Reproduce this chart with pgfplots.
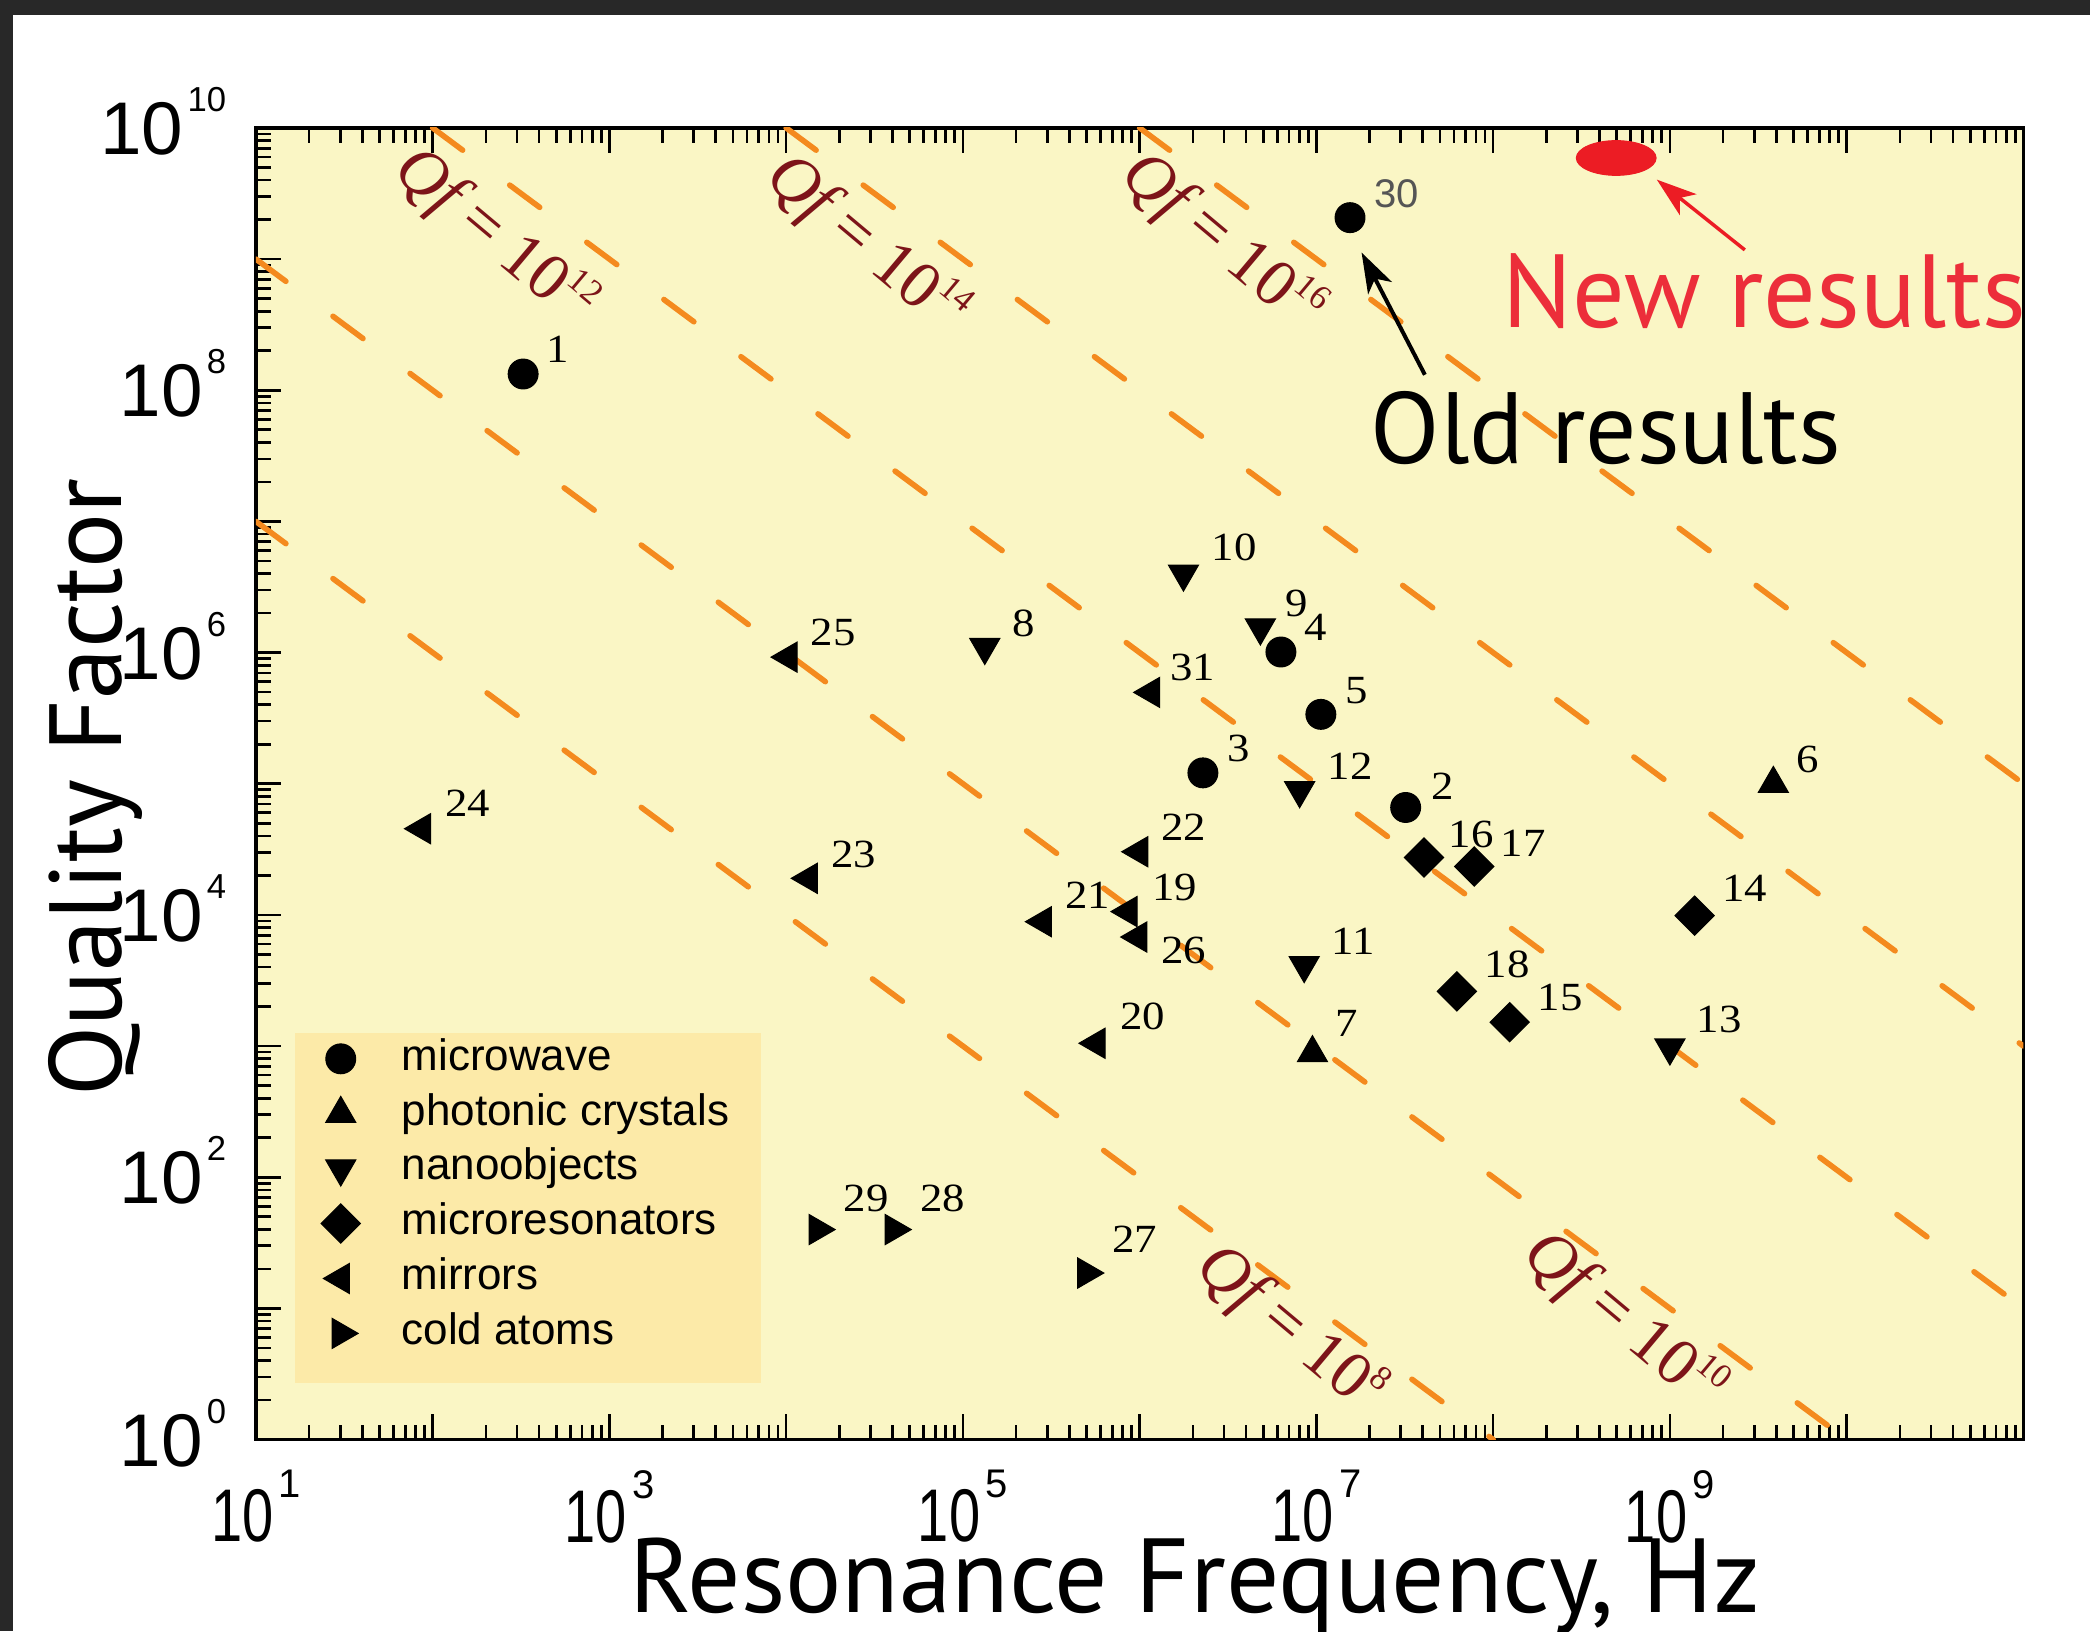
\documentclass[border=0pt]{standalone}
\usepackage{fontspec}
\setmainfont{Liberation Sans}
\newfontfamily\xfont[FakeStretch=0.75]{Liberation Sans}
\newfontfamily\labserif[FakeStretch=1.12]{Liberation Serif}
\newfontfamily\qfserif{Liberation Serif}
\newfontfamily\myriad{PT Sans}
\usepackage{pgfplots}
\pgfplotsset{compat=1.18}
\usetikzlibrary{arrows.meta}
\definecolor{bgyellow}{RGB}{250,246,197}
\definecolor{legendbg}{RGB}{252,234,168}
\definecolor{qforange}{RGB}{244,138,30}
\definecolor{qfred}{RGB}{125,20,25}
\definecolor{newred}{RGB}{236,46,58}
\definecolor{ellred}{RGB}{236,28,36}
\definecolor{framedark}{RGB}{40,40,40}
\definecolor{gray30}{RGB}{85,85,85}
\newcommand\xt[1]{{\fontsize{28}{28}\selectfont\xfont 10}\hspace{2pt}\raisebox{16.4pt}{\fontsize{15}{15}\selectfont #1}}
\newcommand\yt[1]{{\fontsize{28}{28}\selectfont 10}\hspace{1.5pt}\raisebox{16.2pt}{\fontsize{13}{13}\selectfont #1}}
\newcommand\qf[1]{{\qfserif\fontsize{25}{25}\selectfont{\itshape Qf} = 10\raisebox{10.5pt}{\fontsize{13}{13}\selectfont #1}}}
\pgfplotsset{
  lab/.style={nodes near coords, point meta=explicit symbolic,
    visualization depends on={value \thisrow{dx}\as\dx},
    visualization depends on={value \thisrow{dy}\as\dy},
    every node near coord/.append style={anchor=center, xshift=\dx pt, yshift=\dy pt,
      font=\labserif\fontsize{15}{15}\selectfont, text=black, inner sep=0pt}},
  qfline/.style={draw=qforange, line width=2.1pt, line cap=round, dash pattern=on 14pt off 22pt, forget plot},
}
\begin{document}
\begin{tikzpicture}
\fill[white] (0,0) rectangle (784pt,612pt);
\useasboundingbox (0,0) rectangle (784pt,612pt);
\fill[framedark] (0,606.5pt) rectangle (784pt,612pt);
\fill[framedark] (0,0) rectangle (5pt,612pt);
\begin{axis}[
  at={(96pt,72pt)}, anchor=south west,
  scale only axis, width=663pt, height=492pt,
  xmode=log, ymode=log,
  xmin=10, xmax=1e11, ymin=1, ymax=1e10,
  axis background/.style={fill=bgyellow},
  axis line style={line width=1.2pt},
  every tick/.style={black, line width=1pt},
  major tick length=9.5pt, minor tick length=5.5pt,
  xtick pos=both, ytick pos=left,
  xtick={10,100,1e3,1e4,1e5,1e6,1e7,1e8,1e9,1e10,1e11},
  xticklabels={\xt{1},{},\xt{3},{},\xt{5},{},\xt{7},{},\xt{9},{},{}},
  ytick={1,10,100,1e3,1e4,1e5,1e6,1e7,1e8,1e9,1e10},
  yticklabels={\yt{0},{},\yt{2},{},\yt{4},{},\yt{6},{},\yt{8},{},\yt{10}},
  minor xtick={2e1,3e1,4e1,5e1,6e1,7e1,8e1,9e1,2e2,3e2,4e2,5e2,6e2,7e2,8e2,9e2,2e3,3e3,4e3,5e3,6e3,7e3,8e3,9e3,2e4,3e4,4e4,5e4,6e4,7e4,8e4,9e4,2e5,3e5,4e5,5e5,6e5,7e5,8e5,9e5,2e6,3e6,4e6,5e6,6e6,7e6,8e6,9e6,2e7,3e7,4e7,5e7,6e7,7e7,8e7,9e7,2e8,3e8,4e8,5e8,6e8,7e8,8e8,9e8,2e9,3e9,4e9,5e9,6e9,7e9,8e9,9e9,2e10,3e10,4e10,5e10,6e10,7e10,8e10,9e10},
  minor ytick={2,3,4,5,6,7,8,9,2e1,3e1,4e1,5e1,6e1,7e1,8e1,9e1,2e2,3e2,4e2,5e2,6e2,7e2,8e2,9e2,2e3,3e3,4e3,5e3,6e3,7e3,8e3,9e3,2e4,3e4,4e4,5e4,6e4,7e4,8e4,9e4,2e5,3e5,4e5,5e5,6e5,7e5,8e5,9e5,2e6,3e6,4e6,5e6,6e6,7e6,8e6,9e6,2e7,3e7,4e7,5e7,6e7,7e7,8e7,9e7,2e8,3e8,4e8,5e8,6e8,7e8,8e8,9e8,2e9,3e9,4e9,5e9,6e9,7e9,8e9,9e9},
  xticklabel style={anchor=north, inner sep=0pt, yshift=-11.4pt},
  yticklabel style={anchor=base east, inner sep=0pt, xshift=-11pt, yshift=-10pt},
  legend image code/.code={\draw[#1] plot coordinates {(0pt,0pt)};},
  legend cell align=left,
  legend style={at={(0.0366,0.3116)}, anchor=north west, draw=none, fill=none,
    inner sep=0pt, column sep=15.5pt, row sep=0pt,
    nodes={font=\fontsize{16.5}{16.5}\selectfont, text height=12pt, text depth=3.5pt, inner ysep=2.55pt, inner xsep=0pt}},
]
% Qf = const lines
\addplot[qfline] coordinates {(10,1e7) (1e8,1)};
\addplot[qfline] coordinates {(10,1e9) (1e10,1)};
\addplot[qfline] coordinates {(100,1e10) (1e11,10)};
\addplot[qfline] coordinates {(1e4,1e10) (1e11,1e3)};
\addplot[qfline] coordinates {(1e6,1e10) (1e11,1e5)};
\fill[legendbg] (rel axis cs:0.0219,0.0431) rectangle (rel axis cs:0.2858,0.31);
\node[rotate=-40, text=qfred, inner sep=0pt] at (axis cs:224,1.48e9) {\qf{12}};
\node[rotate=-40, text=qfred, inner sep=0pt] at (axis cs:2.84e4,1.29e9) {\qf{14}};
\node[rotate=-40, text=qfred, inner sep=0pt] at (axis cs:2.91e6,1.35e9) {\qf{16}};
\node[rotate=-40, text=qfred, inner sep=0pt] at (axis cs:7.11e6,6.97) {\qf{8}};
\node[rotate=-40, text=qfred, inner sep=0pt] at (axis cs:5.47e8,8.02) {\qf{10}};
% microwave
\addplot[only marks, mark=*, mark size=5.6pt, black, mark options={fill=black, draw=black}, lab]
  table[x=f, y=Q, meta=n] {
f Q n dx dy
325 1.33e8 1 12.8 9.2
3.2e7 6.59e4 2 14 8
2.28e6 1.21e5 3 13.6 9.1
6.3e6 1.01e6 4 13 9.3
1.06e7 3.38e5 5 13.6 8.8
};
\addlegendentry{microwave}
% photonic crystals
\addplot[only marks, mark=triangle*, mark size=6.5pt, black, mark options={fill=black, draw=black}, lab]
  table[x=f, y=Q, meta=n] {
f Q n dx dy
3.85e9 1.0e5 6 13 9
9.5e6 885 7 12.7 11
};
\addlegendentry{photonic crystals}
% nanoobjects
\addplot[only marks, mark=triangle*, mark size=6.5pt, black, mark options={rotate=180, fill=black, draw=black}, lab]
  table[x=f, y=Q, meta=n] {
f Q n dx dy
1.33e5 1.10e6 8 14.5 9
4.82e6 1.55e6 9 13.5 9
1.77e6 3.99e6 10 19 10
8.53e6 4.13e3 11 18.5 9
8.04e6 8.9e4 12 18.9 9
1.0e9 972 13 18.5 10.5
};
\addlegendentry{nanoobjects}
% microresonators
\addplot[only marks, mark=square*, mark size=5.2pt, black, mark options={rotate=45, fill=black, draw=black}, lab]
  table[x=f, y=Q, meta=n] {
f Q n dx dy
1.38e9 9.86e3 14 18.7 10.2
1.24e8 1.52e3 15 19 9.2
4.06e7 2.74e4 16 17.7 8.7
7.82e7 2.34e4 17 18.3 8.7
6.24e7 2.61e3 18 18.8 10.1
};
\addlegendentry{microresonators}
% mirrors
\addplot[only marks, mark=triangle*, mark size=6.5pt, black, mark options={rotate=90, fill=black, draw=black}, lab]
  table[x=f, y=Q, meta=n] {
f Q n dx dy
8.63e5 1.06e4 19 17.5 9
5.69e5 1.05e3 20 17.4 10
2.83e5 8.87e3 21 16.8 10
9.93e5 3.03e4 22 16.8 9.2
1.34e4 1.90e4 23 16.8 9
86.9 4.54e4 24 17.2 9.4
1.03e4 9.23e5 25 16.8 9.2
9.8e5 6.78e3 26 17.1 -5
1.16e6 4.97e5 31 15.6 9.2
};
\addlegendentry{mirrors}
% cold atoms
\addplot[only marks, mark=triangle*, mark size=6.5pt, black, mark options={rotate=-90, fill=black, draw=black}, lab]
  table[x=f, y=Q, meta=n] {
f Q n dx dy
5.0e5 18.6 27 18.2 12.5
4.07e4 39.9 28 18.2 11.8
1.51e4 39.9 29 18.2 11.8
};
\addlegendentry{cold atoms}
% old result no. 30
\addplot[only marks, mark=*, mark size=5.6pt, black, mark options={fill=black, draw=black}, forget plot,
  nodes near coords, point meta=explicit symbolic,
  every node near coord/.append style={anchor=center, xshift=17.5pt, yshift=9pt,
    font=\fontsize{15}{15}\selectfont, text=gray30, inner sep=0pt}]
  coordinates {(1.55e7,2.07e9) [30]};
% new results
\addplot[only marks, mark=*, mark size=6.5pt, forget plot, mark options={xscale=2.3, fill=ellred, draw=ellred}]
  coordinates {(4.97e8,5.9e9)};
\end{axis}
\node[anchor=base, inner sep=0pt, font=\myriad\fontsize{39.5}{39.5}\selectfont] at (448.25pt,7pt) {Resonance Frequency, Hz};
\node[rotate=90, anchor=base, inner sep=0pt, font=\myriad\fontsize{38.5}{38.5}\selectfont] at (45.5pt,316.5pt) {Quality Factor};
\node[anchor=base west, inner sep=0pt, font=\myriad\fontsize{38}{38}\selectfont] at (514pt,438.15pt) {Old results};
\node[anchor=base west, inner sep=0pt, text=newred, font=\myriad\fontsize{39}{39}\selectfont] at (563.5pt,489pt) {New results};
\draw[black, line width=1.5pt, -{Stealth[length=15pt,width=10pt,inset=4pt]}] (534.5pt,471.4pt) -- (510.75pt,517.25pt);
\draw[ellred, line width=1.3pt, -{Stealth[length=15pt,width=10pt,inset=4pt]}] (654.5pt,518.25pt) -- (621.5pt,544.6pt);
\end{tikzpicture}
\end{document}
